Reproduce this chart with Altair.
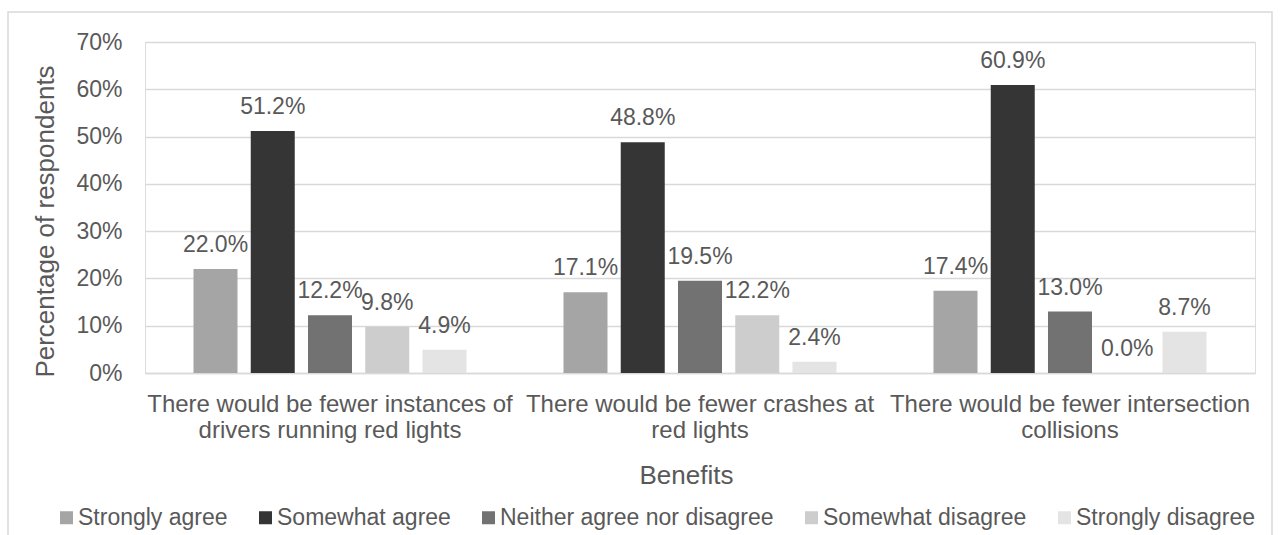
import altair as alt
import pandas as pd

benefits = [
    "There would be fewer instances of drivers running red lights",
    "There would be fewer crashes at red lights",
    "There would be fewer intersection collisions",
]
benefit_lines = [
    ["There would be fewer instances of", "drivers running red lights"],
    ["There would be fewer crashes at", "red lights"],
    ["There would be fewer intersection", "collisions"],
]
responses = ["Strongly agree", "Somewhat agree", "Neither agree nor disagree",
             "Somewhat disagree", "Strongly disagree"]
colors = ["#a5a5a5", "#353535", "#727272", "#cdcdcd", "#e4e4e4"]

strongly_agree = [22.0, 17.1, 17.4]
somewhat_agree = [51.2, 48.8, 60.9]
neither = [12.2, 19.5, 13.0]
somewhat_disagree = [9.8, 12.2, 0.0]
strongly_disagree = [4.9, 2.4, 8.7]

series = [strongly_agree, somewhat_agree, neither, somewhat_disagree, strongly_disagree]
rows = []
for r, vals in zip(responses, series):
    for b, v in zip(benefits, vals):
        rows.append({"Benefit": b, "Response": r, "Value": v,
                     "Label": f"{v:.1f}%"})
df = pd.DataFrame(rows)

FONT = "Liberation Sans"
TXT = "#595959"
GRID = "#d9d9d9"

label_expr = ""
for b, lines in zip(benefits, benefit_lines):
    arr = "[" + ",".join("'" + l + "'" for l in lines) + "]"
    label_expr += f"datum.value == '{b}' ? {arr} : "
label_expr += "datum.value"

x_enc = alt.X("Benefit:N", sort=benefits,
              scale=alt.Scale(paddingInner=0, paddingOuter=0),
              axis=alt.Axis(title="Benefits", labelAngle=0, labelExpr=label_expr,
                            labelFontSize=24, labelColor=TXT, labelFont=FONT,
                            labelLineHeight=26, labelPadding=19, ticks=False,
                            labelLimit=0, labelOverlap=False,
                            domainColor=GRID, domainWidth=1.5,
                            titleFontSize=26, titleFontWeight="normal", titleColor=TXT,
                            titleFont=FONT, titleX=541, titleY=110.5,
                            titleBaseline="alphabetic", titleAlign="center"))
xoff = alt.XOffset("Response:N", sort=responses,
                   scale=alt.Scale(paddingInner=0.2314, paddingOuter=0.847))
y_enc = alt.Y("Value:Q", scale=alt.Scale(domain=[0, 70]),
              axis=alt.Axis(title="Percentage of respondents", values=[0, 10, 20, 30, 40, 50, 60, 70],
                            labelExpr="datum.value + '%'", labelFontSize=23, labelColor=TXT,
                            labelFont=FONT, labelPadding=23, ticks=False, domain=False,
                            gridColor=GRID, gridWidth=1.5,
                            titleFontSize=26, titleFontWeight="normal", titleColor=TXT,
                            titleFont=FONT, titleAngle=-90, titleX=-91.5, titleY=179,
                            titleBaseline="alphabetic", titleAlign="center"))

bars = alt.Chart(df).mark_bar().encode(
    x=x_enc, xOffset=xoff, y=y_enc,
    color=alt.Color("Response:N", sort=responses,
                    scale=alt.Scale(domain=responses, range=colors),
                    legend=alt.Legend(title=None, orient="none", direction="horizontal",
                                      legendX=-90, legendY=464,
                                      symbolType="square", symbolSize=169,
                                      symbolStrokeWidth=0, labelFontSize=23,
                                      labelFont=FONT, labelColor=TXT, labelOffset=0,
                                      labelLimit=0,
                                      columnPadding=26, padding=0)),
)

labels = alt.Chart(df).mark_text(fontSize=23, font=FONT, color=TXT,
                                 baseline="alphabetic", dy=-17).encode(
    x=alt.X("Benefit:N", sort=benefits), xOffset=alt.XOffset("Response:N", sort=responses),
    y="Value:Q", text="Label:N")

frame = alt.Chart(pd.DataFrame({"a": [0]})).mark_rect(
    fill=None, stroke=GRID, strokeWidth=1.5).encode(
    x=alt.value(-137), x2=alt.value(1127), y=alt.value(-30), y2=alt.value(510))

chart = alt.layer(frame, bars, labels).properties(
    width=1110, height=331,
    autosize=alt.AutoSizeParams(type="none"),
    padding={"left": 145, "top": 42, "right": 25, "bottom": 162},
).configure_view(stroke=None).configure(background="white")

chart.save("out.html", embed_options={"renderer": "svg", "actions": False})
